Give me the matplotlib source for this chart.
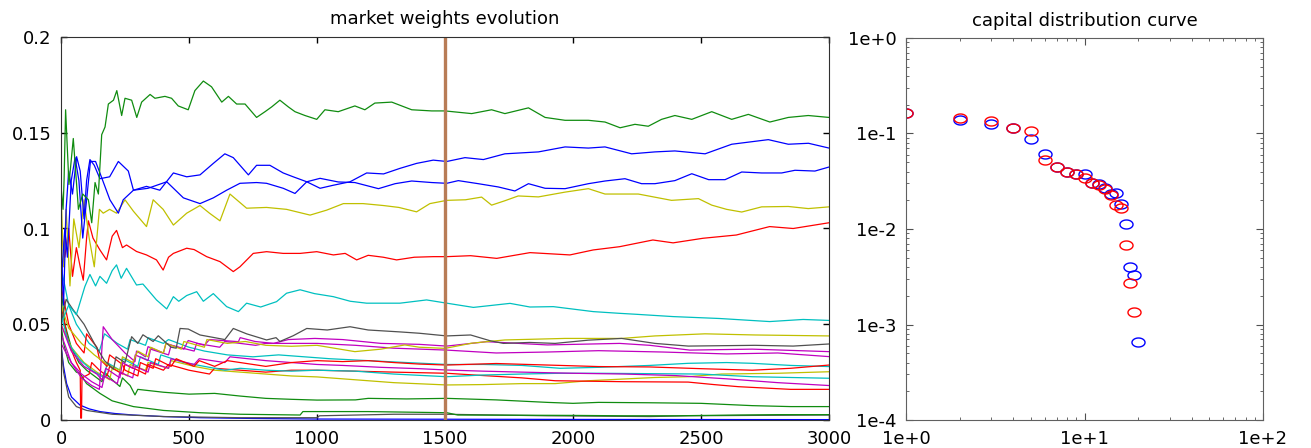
import matplotlib
matplotlib.use("Agg")
import matplotlib.pyplot as plt
import numpy as np
from matplotlib.path import Path
from matplotlib.ticker import FixedLocator, LogLocator, NullFormatter

# market weights as (time, weight) knots
green_top = [(0, 0.122), (8, 0.11), (12, 0.125), (18, 0.162), (31, 0.123), (48, 0.147), (68, 0.11),
             (85, 0.118), (107, 0.115), (120, 0.103), (133, 0.124), (146, 0.118), (159, 0.149),
             (172, 0.153), (185, 0.165), (205, 0.167), (218, 0.172), (237, 0.159), (250, 0.168),
             (276, 0.167), (296, 0.158), (315, 0.166), (348, 0.170), (367, 0.168), (406, 0.169),
             (432, 0.168), (458, 0.164), (497, 0.162), (523, 0.172), (556, 0.177), (588, 0.174),
             (628, 0.166), (654, 0.169), (686, 0.165), (719, 0.165), (764, 0.158), (797, 0.161),
             (823, 0.1635), (855, 0.167), (888, 0.1635), (914, 0.161), (953, 0.159), (999, 0.157),
             (1031, 0.162), (1083, 0.161), (1148, 0.164), (1187, 0.162), (1226, 0.1655),
             (1292, 0.166), (1370, 0.162), (1448, 0.1614), (1500, 0.1614), (1604, 0.160),
             (1682, 0.162), (1734, 0.160), (1826, 0.163), (1891, 0.158), (1969, 0.1565),
             (2060, 0.1565), (2125, 0.1556), (2184, 0.1526), (2242, 0.1544), (2294, 0.1534),
             (2346, 0.157), (2398, 0.159), (2464, 0.157), (2542, 0.161), (2620, 0.157),
             (2685, 0.1596), (2769, 0.1556), (2841, 0.158), (2919, 0.159), (3000, 0.158)]

blue_a = [(0, 0.09), (10, 0.06), (20, 0.11), (30, 0.13), (45, 0.118), (61, 0.1375), (75, 0.13),
          (90, 0.105), (100, 0.125), (113, 0.136), (130, 0.133), (152, 0.126), (190, 0.127),
          (224, 0.135), (263, 0.130), (283, 0.120), (334, 0.122), (386, 0.120), (439, 0.129),
          (491, 0.127), (543, 0.128), (595, 0.134), (640, 0.139), (673, 0.137), (732, 0.128),
          (764, 0.133), (816, 0.133), (868, 0.129), (907, 0.127), (960, 0.1244), (1012, 0.121),
          (1064, 0.1226), (1129, 0.1244), (1194, 0.129), (1260, 0.1285), (1324, 0.1314),
          (1389, 0.134), (1454, 0.1357), (1507, 0.135), (1578, 0.137), (1650, 0.136),
          (1734, 0.139), (1865, 0.140), (1969, 0.1426), (2060, 0.142), (2125, 0.1426),
          (2229, 0.139), (2320, 0.140), (2398, 0.1405), (2516, 0.139), (2620, 0.144),
          (2763, 0.1464), (2841, 0.144), (2920, 0.1445), (3000, 0.142)]

blue_b = [(0, 0.07), (15, 0.1), (25, 0.085), (40, 0.125), (55, 0.137), (70, 0.125), (85, 0.095),
          (100, 0.115), (115, 0.135), (135, 0.135), (152, 0.129), (191, 0.115), (224, 0.108),
          (243, 0.115), (283, 0.120), (340, 0.121), (413, 0.1244), (478, 0.116), (543, 0.113),
          (595, 0.116), (647, 0.120), (699, 0.1236), (764, 0.124), (803, 0.1236), (868, 0.121),
          (914, 0.1183), (960, 0.1244), (1012, 0.1262), (1083, 0.1243), (1148, 0.124),
          (1240, 0.1208), (1305, 0.1234), (1370, 0.1248), (1448, 0.124), (1507, 0.1236),
          (1552, 0.125), (1630, 0.1234), (1708, 0.1217), (1773, 0.1196), (1826, 0.1234),
          (1891, 0.121), (1969, 0.1208), (2060, 0.1234), (2125, 0.1248), (2203, 0.126),
          (2268, 0.1234), (2320, 0.1234), (2398, 0.125), (2464, 0.1286), (2530, 0.1255),
          (2594, 0.1255), (2659, 0.1295), (2737, 0.129), (2815, 0.129), (2867, 0.1304),
          (2945, 0.130), (3000, 0.1321)]

yellow_top = [(0, 0.12), (10, 0.08), (20, 0.11), (35, 0.07), (50, 0.105), (70, 0.09), (90, 0.115),
              (110, 0.095), (130, 0.08), (150, 0.11), (165, 0.108), (190, 0.11), (217, 0.108),
              (250, 0.115), (283, 0.109), (334, 0.101), (360, 0.115), (399, 0.110), (439, 0.1018),
              (491, 0.108), (543, 0.112), (580, 0.108), (621, 0.104), (660, 0.118), (725, 0.1106),
              (803, 0.111), (881, 0.110), (973, 0.107), (1038, 0.1096), (1103, 0.113),
              (1180, 0.113), (1259, 0.112), (1320, 0.111), (1389, 0.1087), (1441, 0.113),
              (1507, 0.1147), (1580, 0.115), (1643, 0.1164), (1682, 0.1122), (1734, 0.1145),
              (1786, 0.117), (1865, 0.1165), (1969, 0.119), (2060, 0.1208), (2125, 0.118),
              (2255, 0.118), (2385, 0.1147), (2490, 0.1156), (2542, 0.1122), (2600, 0.110),
              (2659, 0.1086), (2737, 0.1113), (2841, 0.1115), (2919, 0.1104), (3000, 0.1113)]

red_top = [(0, 0.1), (15, 0.085), (30, 0.1), (45, 0.075), (60, 0.09), (75, 0.08), (87, 0.073),
           (100, 0.095), (107, 0.104), (125, 0.095), (152, 0.0888), (178, 0.0836), (200, 0.096),
           (217, 0.099), (240, 0.090), (256, 0.0914), (295, 0.088), (334, 0.0862), (373, 0.0836),
           (399, 0.0783), (420, 0.085), (439, 0.087), (491, 0.0897), (520, 0.089), (569, 0.0853),
           (621, 0.0827), (673, 0.0775), (699, 0.080), (751, 0.087), (803, 0.0879), (868, 0.087),
           (934, 0.087), (999, 0.0879), (1064, 0.0862), (1110, 0.087), (1155, 0.0836),
           (1200, 0.086), (1259, 0.085), (1311, 0.0836), (1380, 0.085), (1454, 0.0853),
           (1507, 0.0853), (1600, 0.0858), (1702, 0.0844), (1832, 0.0874), (1988, 0.0862),
           (2079, 0.0888), (2182, 0.0905), (2312, 0.094), (2391, 0.0925), (2508, 0.0949),
           (2638, 0.0966), (2768, 0.101), (2860, 0.100), (3000, 0.103)]

cyan_top = [(0, 0.05), (30, 0.06), (60, 0.055), (93, 0.0696), (113, 0.076), (135, 0.07),
            (152, 0.075), (178, 0.0714), (200, 0.078), (217, 0.081), (235, 0.074), (256, 0.0792),
            (295, 0.0705), (320, 0.071), (373, 0.0627), (413, 0.058), (439, 0.0644), (460, 0.062),
            (491, 0.065), (530, 0.067), (556, 0.062), (595, 0.066), (647, 0.0592), (693, 0.0566),
            (725, 0.061), (780, 0.059), (842, 0.0618), (881, 0.0662), (934, 0.068), (990, 0.066),
            (1064, 0.0644), (1130, 0.062), (1194, 0.061), (1324, 0.061), (1428, 0.0627),
            (1507, 0.061), (1611, 0.0588), (1754, 0.0609), (1832, 0.059), (1923, 0.0592),
            (2079, 0.0566), (2182, 0.0557), (2247, 0.0552), (2391, 0.054), (2573, 0.053),
            (2768, 0.0514), (2899, 0.0525), (3000, 0.052)]

gray_mid = [(0, 0.05), (20, 0.063), (45, 0.058), (90, 0.05), (130, 0.04), (170, 0.031),
            (205, 0.0265), (215, 0.033), (250, 0.030), (276, 0.0435), (300, 0.040), (320, 0.0445),
            (360, 0.041), (380, 0.044), (430, 0.038), (450, 0.0375), (465, 0.0478), (497, 0.0475),
            (543, 0.0444), (600, 0.043), (640, 0.042), (673, 0.0478), (725, 0.045), (803, 0.0418),
            (840, 0.043), (855, 0.041), (907, 0.044), (960, 0.0478), (1040, 0.047), (1129, 0.0487),
            (1200, 0.047), (1324, 0.046), (1400, 0.0453), (1507, 0.0439), (1600, 0.0444),
            (1676, 0.0414), (1728, 0.040), (1830, 0.0405), (1930, 0.040), (2060, 0.0417),
            (2190, 0.0426), (2320, 0.040), (2450, 0.0386), (2711, 0.039), (2860, 0.0386),
            (3000, 0.0397)]

yellow_mid = [(0, 0.06), (30, 0.048), (80, 0.04), (130, 0.034), (180, 0.029), (230, 0.026),
              (240, 0.033), (280, 0.030), (300, 0.036), (340, 0.033), (350, 0.038), (400, 0.035),
              (410, 0.040), (470, 0.037), (480, 0.041), (560, 0.038), (570, 0.042), (650, 0.040),
              (720, 0.041), (800, 0.039), (900, 0.0385), (1000, 0.039), (1148, 0.0357),
              (1250, 0.037), (1343, 0.0392), (1400, 0.038), (1500, 0.0374), (1604, 0.0401),
              (1663, 0.0409), (1734, 0.0418), (1969, 0.0426), (2190, 0.0426), (2320, 0.0439),
              (2516, 0.045), (2711, 0.0444), (3000, 0.0439)]

magenta_a = [(0, 0.04), (40, 0.03), (80, 0.022), (120, 0.018), (150, 0.016), (165, 0.0487),
             (200, 0.042), (250, 0.035), (289, 0.0305), (295, 0.036), (330, 0.033), (340, 0.0383),
             (400, 0.035), (410, 0.040), (480, 0.037), (497, 0.0415), (560, 0.039), (580, 0.042),
             (693, 0.0409), (700, 0.043), (758, 0.041), (830, 0.040), (888, 0.042), (992, 0.0426),
             (1100, 0.042), (1250, 0.040), (1400, 0.0395), (1507, 0.0386), (1663, 0.0409),
             (1900, 0.0392), (2182, 0.040), (2300, 0.039), (2456, 0.0365), (2700, 0.037),
             (3000, 0.0357)]

magenta_b = [(0, 0.05), (40, 0.036), (90, 0.028), (140, 0.024), (160, 0.021), (175, 0.027),
             (230, 0.022), (240, 0.030), (280, 0.027), (290, 0.034), (340, 0.031), (350, 0.037),
             (420, 0.034), (430, 0.039), (520, 0.036), (530, 0.040), (620, 0.038), (640, 0.041),
             (760, 0.039), (800, 0.040), (1000, 0.040), (1150, 0.039), (1300, 0.0375),
             (1507, 0.0365), (1700, 0.035), (1900, 0.0355), (2100, 0.0362), (2350, 0.0355),
             (2600, 0.0345), (2800, 0.035), (3000, 0.0331)]

red_mid = [(0, 0.07), (30, 0.05), (60, 0.04), (90, 0.035), (100, 0.045), (140, 0.038), (150, 0.032),
           (180, 0.028), (190, 0.034), (240, 0.029), (250, 0.026), (300, 0.023), (310, 0.030),
           (360, 0.027), (370, 0.032), (430, 0.028), (450, 0.032), (520, 0.028), (540, 0.031),
           (600, 0.028), (650, 0.031), (700, 0.030), (800, 0.028), (900, 0.030), (1000, 0.031),
           (1100, 0.0305), (1200, 0.031), (1300, 0.030), (1400, 0.0292), (1507, 0.0287),
           (1700, 0.0295), (1900, 0.0287), (2100, 0.0279), (2300, 0.0277), (2500, 0.0268),
           (2700, 0.026), (2850, 0.027), (3000, 0.0287)]

cyan_mid = [(0, 0.08), (30, 0.06), (60, 0.05), (110, 0.04), (150, 0.036), (170, 0.045), (220, 0.040),
            (260, 0.037), (270, 0.042), (330, 0.039), (340, 0.043), (400, 0.040), (420, 0.042),
            (500, 0.038), (560, 0.036), (650, 0.034), (750, 0.033), (850, 0.034), (950, 0.033),
            (1050, 0.032), (1200, 0.031), (1350, 0.030), (1507, 0.029), (1650, 0.029),
            (1800, 0.0285), (1950, 0.027), (2100, 0.0275), (2300, 0.0285), (2450, 0.0296),
            (2600, 0.030), (2700, 0.0296), (2850, 0.0285), (3000, 0.0279)]

magenta_c = [(0, 0.045), (40, 0.03), (80, 0.024), (120, 0.02), (160, 0.017), (170, 0.023),
             (220, 0.019), (230, 0.025), (280, 0.022), (290, 0.028), (340, 0.025), (350, 0.030),
             (420, 0.027), (430, 0.032), (520, 0.029), (540, 0.032), (640, 0.030), (660, 0.033),
             (800, 0.031), (900, 0.030), (1000, 0.029), (1100, 0.0285), (1250, 0.0275),
             (1400, 0.0268), (1507, 0.0261), (1650, 0.0255), (1800, 0.025), (2000, 0.0244),
             (2200, 0.0240), (2400, 0.0232), (2600, 0.0215), (2800, 0.0195), (3000, 0.018)]

cyan_low = [(0, 0.055), (30, 0.04), (70, 0.032), (120, 0.026), (170, 0.022), (180, 0.030),
            (230, 0.026), (240, 0.032), (300, 0.028), (310, 0.033), (380, 0.029), (390, 0.034),
            (480, 0.030), (560, 0.028), (640, 0.026), (700, 0.027), (800, 0.026), (900, 0.0255),
            (1000, 0.026), (1150, 0.0255), (1300, 0.024), (1507, 0.0226), (1650, 0.0235),
            (1800, 0.024), (1950, 0.0244), (2100, 0.0244), (2300, 0.0242), (2500, 0.024),
            (2700, 0.0226), (3000, 0.0218)]

red_low = [(0, 0.06), (30, 0.04), (60, 0.03), (75, 0.026), (77, 0.001), (80, 0.001), (82, 0.022),
           (110, 0.024), (120, 0.030), (150, 0.026), (180, 0.023), (190, 0.028), (240, 0.024),
           (250, 0.029), (300, 0.026), (330, 0.024), (340, 0.029), (400, 0.026), (420, 0.029),
           (500, 0.026), (580, 0.024), (600, 0.027), (700, 0.026), (800, 0.025), (900, 0.026),
           (1000, 0.026), (1150, 0.0255), (1300, 0.025), (1507, 0.0244), (1650, 0.0232),
           (1800, 0.022), (1930, 0.0205), (2200, 0.020), (2450, 0.0198), (2550, 0.0185),
           (2646, 0.0174), (2850, 0.016), (3000, 0.016)]

yellow_low = [(0, 0.05), (40, 0.038), (90, 0.03), (140, 0.025), (190, 0.021), (200, 0.027),
              (260, 0.023), (270, 0.029), (330, 0.026), (340, 0.030), (420, 0.027), (430, 0.031),
              (520, 0.028), (600, 0.026), (700, 0.025), (800, 0.024), (900, 0.023), (1000, 0.0225),
              (1150, 0.021), (1300, 0.0195), (1507, 0.0183), (1650, 0.0185), (1800, 0.019),
              (1930, 0.019), (2060, 0.0205), (2320, 0.0222), (2450, 0.0226), (2580, 0.024),
              (2800, 0.0244), (3000, 0.0252)]

green_low = [(0, 0.07), (15, 0.05), (40, 0.038), (70, 0.03), (100, 0.026), (130, 0.023), (160, 0.020),
             (170, 0.025), (200, 0.021), (230, 0.0175), (240, 0.022), (270, 0.018), (289, 0.0131),
             (300, 0.016), (400, 0.0145), (500, 0.0135), (600, 0.0139), (700, 0.0125), (800, 0.0113),
             (900, 0.0108), (1000, 0.0104), (1150, 0.0105), (1200, 0.0113), (1350, 0.011),
             (1507, 0.0113), (1700, 0.0105), (1900, 0.0092), (2000, 0.0087), (2100, 0.0092),
             (2300, 0.009), (2500, 0.0087), (2700, 0.0075), (2850, 0.007), (3000, 0.007)]

green_bottom = [(0, 0.05), (10, 0.04), (30, 0.03), (60, 0.025), (74, 0.0244), (100, 0.019),
                (152, 0.0139), (200, 0.010), (283, 0.007), (400, 0.005), (543, 0.0038), (700, 0.003),
                (934, 0.0026), (945, 0.0044), (1200, 0.0044), (1507, 0.0038), (1550, 0.0026),
                (2000, 0.0024), (2200, 0.0022), (2400, 0.0022), (2650, 0.0026), (2800, 0.0028),
                (3000, 0.0028)]

gray_bottom = [(0, 0.04), (10, 0.025), (30, 0.012), (60, 0.007), (100, 0.005), (200, 0.003),
               (400, 0.0018), (700, 0.0012), (1000, 0.0012), (1010, 0.0022), (1300, 0.003),
               (1500, 0.003), (1700, 0.0026), (1900, 0.0022), (2300, 0.0018), (2450, 0.0022),
               (2700, 0.0024), (3000, 0.0026)]

blue_bottom = [(0, 0.039), (10, 0.028), (22, 0.019), (41, 0.012), (74, 0.0078), (110, 0.0058),
               (152, 0.0044), (210, 0.0034), (282, 0.0026), (400, 0.0018), (543, 0.0012),
               (750, 0.0008), (1000, 0.0005), (1500, 0.0004), (2000, 0.0003), (3000, 0.0002)]

marker_time = 1500

# capital distribution curve (rank, weight)
ranks_blue = list(range(1, 21))
weights_blue = [0.1634, 0.1369, 0.1243, 0.1138, 0.0872, 0.0617, 0.0450, 0.0399, 0.0374, 0.0374,
                0.0306, 0.0297, 0.0267, 0.0234, 0.0237, 0.0183, 0.01128, 0.00403, 0.00329, 0.000655]
ranks_red = list(range(1, 20))
weights_red = [0.1634, 0.1448, 0.1336, 0.1138, 0.1050, 0.0529, 0.0444, 0.0399, 0.0374, 0.0340,
               0.0302, 0.0290, 0.0262, 0.0228, 0.0179, 0.0165, 0.00679, 0.00274, 0.00136]

GREEN = "#108c10"
BLUE = "#0000ff"
YELLOW = "#c0c000"
RED = "#ff0000"
CYAN = "#00c0c0"
GRAY = "#505050"
MAGENTA = "#c000c0"

series = [
    (blue_bottom, BLUE), (gray_bottom, GRAY), (green_bottom, GREEN), (green_low, GREEN),
    (yellow_low, YELLOW), (red_low, RED), (cyan_low, CYAN), (magenta_c, MAGENTA),
    (cyan_mid, CYAN), (red_mid, RED), (magenta_b, MAGENTA), (magenta_a, MAGENTA),
    (yellow_mid, YELLOW), (gray_mid, GRAY), (cyan_top, CYAN), (red_top, RED),
    (yellow_top, YELLOW), (blue_b, BLUE), (blue_a, BLUE), (green_top, GREEN),
]

plt.rcParams["font.family"] = ["DejaVu Sans"]
plt.rcParams["font.size"] = 13

fig = plt.figure(figsize=(13.11, 4.48), dpi=100)
ax = fig.add_axes([61 / 1311, 28 / 448, 768 / 1311, 383 / 448])
ax2 = fig.add_axes([906 / 1311, 28 / 448, 357 / 1311, 382 / 448])

for data, color in series:
    t, w = zip(*data)
    ax.plot(t, w, color=color, lw=0.9)
ax.axvline(marker_time, color="#b87c56", lw=2.4)

ax.set_xlim(0, 3000)
ax.set_ylim(0, 0.2)
ax.set_xticks([0, 500, 1000, 1500, 2000, 2500, 3000])
ax.set_yticks([0, 0.05, 0.1, 0.15, 0.2])
ax.set_yticklabels(["0", "0.05", "0.1", "0.15", "0.2"])
ax.tick_params(direction="in", top=True, right=True, length=4, width=1, pad=7)
ax.set_title("market weights evolution", fontsize=13, pad=9)
for s in ax.spines.values():
    s.set_color("#303030")

# ellipse-shaped open markers like the original
theta = np.linspace(0, 2 * np.pi, 61)
ellipse = Path(np.column_stack([1.45 * np.cos(theta), np.sin(theta)]), closed=True)

ax2.plot(ranks_blue, weights_blue, ls="none", marker=ellipse, ms=9.4, mfc="none",
         mec=BLUE, mew=1.0)
ax2.plot(ranks_red, weights_red, ls="none", marker=ellipse, ms=9.4, mfc="none",
         mec=RED, mew=1.0)
ax2.set_xscale("log")
ax2.set_yscale("log")
ax2.set_xlim(1, 100)
ax2.set_ylim(1e-4, 1)
ax2.xaxis.set_major_locator(FixedLocator([1, 10, 100]))
ax2.yaxis.set_major_locator(FixedLocator([1e-4, 1e-3, 1e-2, 1e-1, 1]))
ax2.set_xticklabels(["1e+0", "1e+1", "1e+2"])
ax2.set_yticklabels(["1e-4", "1e-3", "1e-2", "1e-1", "1e+0"])
ax2.xaxis.set_minor_locator(LogLocator(base=10, subs=np.arange(2, 10), numticks=10))
ax2.yaxis.set_minor_locator(LogLocator(base=10, subs=np.arange(2, 10), numticks=10))
ax2.xaxis.set_minor_formatter(NullFormatter())
ax2.yaxis.set_minor_formatter(NullFormatter())
ax2.tick_params(which="both", direction="in", top=True, right=True, colors="#505050",
                labelcolor="black", pad=7)
ax2.tick_params(which="major", length=5)
ax2.tick_params(which="minor", length=2.5)
ax2.set_title("capital distribution curve", fontsize=13, pad=9)
for s in ax2.spines.values():
    s.set_color("#606060")

fig.savefig("out.png", dpi=100)
